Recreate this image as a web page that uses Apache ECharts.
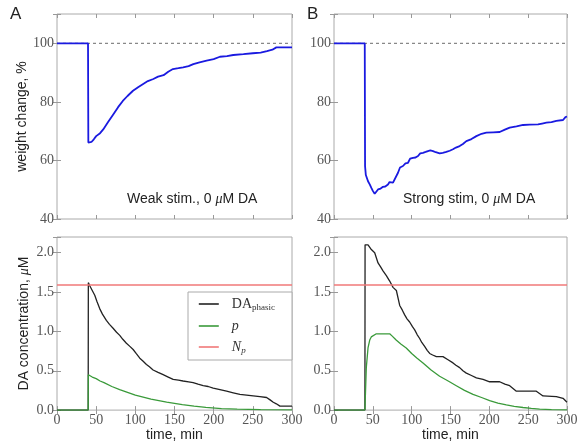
<!DOCTYPE html>
<html><head><meta charset="utf-8">
<script src="https://cdn.jsdelivr.net/npm/echarts@6/dist/echarts.min.js"></script>
<style>html,body{margin:0;padding:0;background:#fff}#c{width:588px;height:443px}</style>
</head><body><div id="c"></div>
<script>
// ---------- data ----------
const weakWeightT = [0,39.6,40,44,47,50,55,59,65,72,78,84,90,97,104,110,116,123,129,136,142,148,155,161,168,174,182,191,200,208,217,225,238,250,260,268,275,280,300];
const weakWeight  = [100,100,66.1,66.3,67.2,68.3,69.3,70.6,73,75.8,78.2,80.3,82,83.8,85.1,86.1,87.1,87.8,88.6,89.1,90.3,91.2,91.5,91.8,92.2,92.9,93.5,94.1,94.6,95.4,95.6,96,96.3,96.6,96.8,97.3,97.8,98.6,98.6];

const strongWeightT = [0,39.6,40,41,43.8,46,48.1,50,52.4,54.5,56.7,60,63.1,66,69.5,71.5,73.8,76,78.1,82.4,85,88.8,92,95.3,98,101.7,105,108.2,111,114.6,118,121,124,127.5,131,136,140,144.6,149,153.2,157,161.8,166,170.4,177,183.3,190,196.1,205,213.3,220,226.2,235,243.4,252,262.7,268,273.4,280,286.3,294.9,298,300];
const strongWeight  = [100,100,58,55,52.9,51.8,50.6,49.6,48.6,49.2,50.1,50.4,51,51.1,51.8,52.6,52.9,52.4,52.6,55.8,57.6,58.1,59,59.2,60.6,60.9,61,61.5,62.4,62.6,62.9,63.2,63.4,63.2,62.8,62.4,62.6,62.9,63.3,63.8,64.4,64.9,65.6,66.6,67.3,68.3,69.1,69.5,69.6,69.7,70.5,71.2,71.6,72.1,72.2,72.3,72.6,72.9,73.1,73.5,73.8,74.8,75];

const weakDAT = [0,39.8,40,41.8,45,48.2,51,54.5,58,63,67,71.6,76,80.1,84,88.6,93,97.2,101,105.7,110,114.2,118,122.7,129,135.5,142,148.3,155,161,168,173.8,180,186.6,193,199.4,208,216.5,225,233.5,242,250.5,259,267.6,272,276.1,280,284.6,300];
const weakDA  = [0,0,1.62,1.58,1.52,1.46,1.38,1.29,1.22,1.14,1.09,1.04,0.99,0.95,0.90,0.85,0.81,0.77,0.72,0.66,0.62,0.58,0.55,0.51,0.48,0.45,0.42,0.39,0.38,0.37,0.36,0.35,0.33,0.31,0.30,0.28,0.26,0.24,0.22,0.20,0.19,0.18,0.17,0.16,0.13,0.10,0.08,0.05,0.05];

const weakPT = [0,39.8,40,45,50,55,60,70,80,90,100,110,120,130,140,150,160,175,190,210,230,260,300];
const weakP  = [0,0,0.45,0.42,0.40,0.37,0.35,0.30,0.26,0.225,0.19,0.165,0.14,0.12,0.10,0.085,0.07,0.05,0.035,0.02,0.012,0.006,0.002];

const strongDAT = [0,39.8,40,43.8,48.1,52.4,56.7,60,63.1,67.4,71.7,76,80.3,84.6,88,91,94,97.4,101,103.9,107,110.3,113,116.7,120,123.2,127,131.8,140.3,146.8,153.2,157,161.8,166,170.4,177,183.3,191.9,200.4,213.3,220,226.2,234.8,260.5,269.1,286.3,294.9,300];
const strongDA  = [0,0,2.10,2.10,2.04,2.0,1.87,1.82,1.77,1.71,1.64,1.56,1.52,1.33,1.27,1.21,1.16,1.12,1.06,1.02,0.96,0.91,0.86,0.81,0.76,0.72,0.70,0.68,0.68,0.64,0.60,0.57,0.54,0.50,0.47,0.44,0.41,0.39,0.36,0.36,0.33,0.31,0.24,0.24,0.18,0.17,0.15,0.10];

const strongPT = [0,39.8,40,41.6,43.8,46,48,50.2,54.5,71.7,75,80,86,93,100,107,114.6,125,136,147,157.5,168,179,190,200.4,211,221.9,232,243.4,254,264.8,280,300];
const strongP  = [0,0,0,0.54,0.79,0.89,0.93,0.95,0.97,0.97,0.94,0.89,0.84,0.79,0.72,0.66,0.60,0.51,0.43,0.37,0.31,0.25,0.20,0.16,0.12,0.09,0.067,0.048,0.033,0.021,0.013,0.007,0.004];

const Np = 1.59;
const xTickVals = [0,50,100,150,200,250,300];
const topYTicks = [40,60,80,100];
const botYTicks = [0.0,0.5,1.0,1.5,2.0];

const zip = (a,b) => a.map((v,i)=>[v,b[i]]);

// ---------- layout ----------
const grids = [
  {left:57, top:14, width:235, height:205},
  {left:334, top:14, width:233, height:205},
  {left:57, top:237, width:235, height:176},
  {left:334, top:237, width:233, height:176}
].map(g => Object.assign({show:true, borderColor:'#aaa', borderWidth:1, backgroundColor:'transparent'}, g));

const tickFont = {fontFamily:'Liberation Serif', fontSize:14, color:'#555'};
const sans = 'Liberation Sans';

function xAx(i, primary){
  return {
    type:'value', gridIndex:i, min:0, max:300, interval:50,
    position: primary ? 'bottom' : 'top',
    axisLine:{show:false}, splitLine:{show:false},
    axisTick:{show:true, inside:true, length:4, lineStyle:{color:'#999'}},
    axisLabel: (primary && i>=2) ? Object.assign({show:true, margin:3, formatter:v=>xTickVals.includes(v)?String(v):''}, tickFont) : {show:false},
    name: (primary && i>=2) ? 'time, min' : '',
    nameLocation:'middle', nameGap:16,
    nameTextStyle:{fontFamily:sans, fontSize:14, color:'#222'}
  };
}
function yAx(i, primary){
  const top = i<2;
  return {
    type:'value', gridIndex:i,
    min: top?40:0, max: top?110:2.2, interval: top?20:0.5,
    position: primary ? 'left' : 'right',
    axisLine:{show:false}, splitLine:{show:false},
    axisTick:{show:true, inside:true, length:4, lineStyle:{color:'#999'}},
    axisLabel: primary ? Object.assign({show:true, margin:3,
      formatter: top ? (v=>topYTicks.includes(v)?String(v):'') : (v=>botYTicks.some(t=>Math.abs(t-v)<1e-9)?v.toFixed(1):'')}, tickFont) : {show:false},
    name: (primary && i===0) ? 'weight change, %' : (primary && i===2) ? 'DA concentration, {i|μ}M' : '',
    nameLocation:'middle', nameGap:26,
    nameTextStyle:{fontFamily:sans, fontSize:14, color:'#222',
      rich:{i:{fontFamily:'Liberation Serif', fontStyle:'italic', fontSize:14, color:'#222'}}}
  };
}

const xAxes = [0,1,2,3].map(i=>xAx(i,true)).concat([0,1,2,3].map(i=>xAx(i,false)));
const yAxes = [0,1,2,3].map(i=>yAx(i,true)).concat([0,1,2,3].map(i=>yAx(i,false)));

function line(name, g, data, color, width, extra){
  return Object.assign({
    name, type:'line', xAxisIndex:g, yAxisIndex:g, data, symbol:'none', showSymbol:false,
    lineStyle:{color, width}, itemStyle:{color}, animation:false, silent:true
  }, extra||{});
}
const blue = '#1a1ae0', black = '#222', green = '#3a9a3a', red = '#f07878';
const series = [
  line('ref100', 0, [[0,100],[300,100]], '#888', 1.3, {lineStyle:{color:'#888', width:1.3, type:[3,3]}}),
  line('weakW', 0, zip(weakWeightT, weakWeight), blue, 1.8),
  line('ref100b', 1, [[0,100],[300,100]], '#888', 1.3, {lineStyle:{color:'#888', width:1.3, type:[3,3]}}),
  line('strongW', 1, zip(strongWeightT, strongWeight), blue, 1.8),
  line('DA_phasic', 2, zip(weakDAT, weakDA), black, 1.3),
  line('p', 2, zip(weakPT, weakP), green, 1.3),
  line('Np', 2, [[0,Np],[300,Np]], red, 1.6),
  line('DA_phasic', 3, zip(strongDAT, strongDA), black, 1.3),
  line('p', 3, zip(strongPT, strongP), green, 1.3),
  line('Np', 3, [[0,Np],[300,Np]], red, 1.6)
];

const chart = echarts.init(document.getElementById('c'), null, {renderer:'canvas'});
chart.setOption({
  backgroundColor:'#fff',
  animation:false,
  grid: grids,
  xAxis: xAxes,
  yAxis: yAxes,
  series,
  legend: {
    data:['DA_phasic','p','Np'], orient:'vertical', left:188, top:292,
    padding:[5,17,5,10], itemWidth:20, itemHeight:14, itemGap:7,
    borderColor:'#aaa', borderWidth:1, backgroundColor:'#fff', selectedMode:false,
    itemStyle:{opacity:0},
    lineStyle:{width:1.6},
    formatter: n => n==='DA_phasic' ? '{m|DA}{s|phasic}' : n==='p' ? '{i|p}' : '{i|N}{si|p}',
    textStyle:{
      padding:[0,0,0,8],
      rich:{
        m:{fontFamily:'Liberation Serif', fontSize:14, color:'#333'},
        i:{fontFamily:'Liberation Serif', fontStyle:'italic', fontSize:14, color:'#333'},
        s:{fontFamily:'Liberation Serif', fontSize:9, color:'#333', padding:[7,0,0,0]},
        si:{fontFamily:'Liberation Serif', fontStyle:'italic', fontSize:9, color:'#333', padding:[7,0,0,0]}
      }
    }
  },
  graphic: [
    {type:'text', left:10, top:6, style:{text:'A', font:'17px "Liberation Sans"', fill:'#222'}},
    {type:'text', left:307, top:6, style:{text:'B', font:'17px "Liberation Sans"', fill:'#222'}},
    {type:'text', left:127, top:192, style:{text:'Weak stim., 0 {i|μ}M DA', font:'14px "Liberation Sans"', fill:'#222',
      rich:{i:{fontStyle:'italic', fontFamily:'Liberation Serif', fontSize:14, fill:'#222'}}}},
    {type:'text', left:403, top:192, style:{text:'Strong stim, 0 {i|μ}M DA', font:'14px "Liberation Sans"', fill:'#222',
      rich:{i:{fontStyle:'italic', fontFamily:'Liberation Serif', fontSize:14, fill:'#222'}}}}
  ]
});
</script></body></html>
